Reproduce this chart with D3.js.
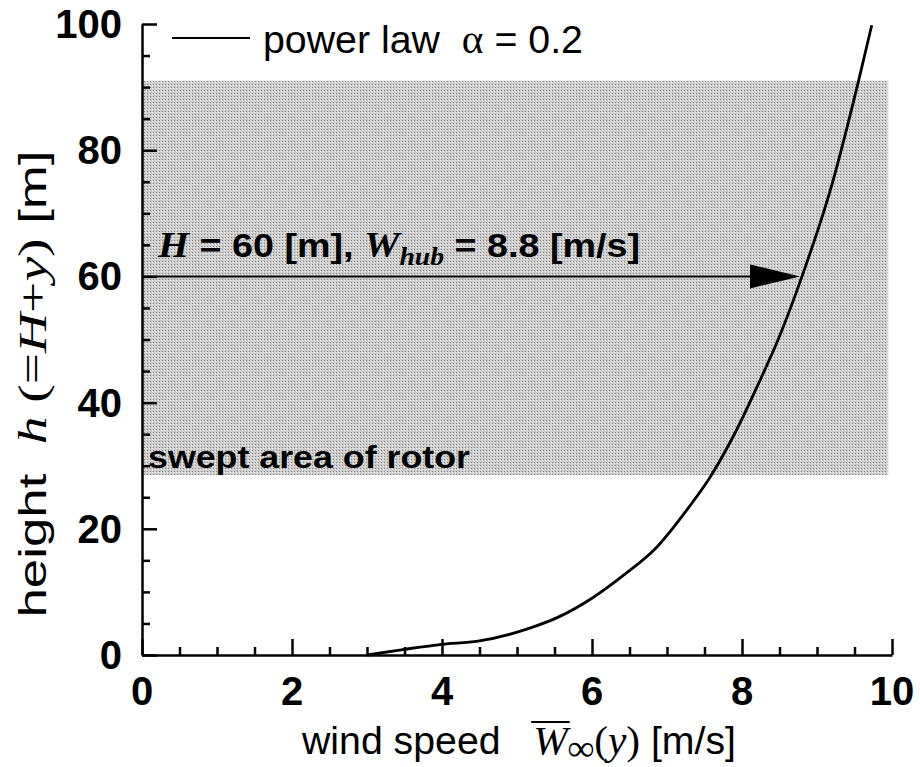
<!DOCTYPE html>
<html>
<head>
<meta charset="utf-8">
<script src="https://cdn.jsdelivr.net/npm/d3@7"></script>
<style>
  body { margin: 0; background: #fff; }
  svg text { font-family: "Liberation Sans", Arial, sans-serif; fill: #000; }
</style>
</head>
<body>
<div id="chart"></div>
<script>
const width = 920
const height = 767

// curve: wind speed [m/s], height [m]
const windSpeed = [3.0, 3.5, 4.0, 4.48, 5.13, 5.55, 6.0, 6.46, 6.84, 7.29, 7.57, 7.92, 8.22, 8.5, 8.8, 9.2, 9.55, 9.73]
const heightVals = [0, 0.9, 1.7, 2.2, 4.1, 6.0, 9.0, 13.0, 16.8, 23.4, 28.1, 35.5, 43, 50.5, 60, 74.6, 90.8, 99.8]

// rotor swept area and hub
const sweptBottom = 28.5
const sweptTop = 91
const sweptRight = 9.95
const hubHeight = 60
const hubSpeed = 8.8

const xTicks = [0, 2, 4, 6, 8, 10]
const yTicks = [0, 20, 40, 60, 80, 100]

const x = d3.scaleLinear().domain([0, 10]).range([142, 892])
const y = d3.scaleLinear().domain([0, 100]).range([655, 24])

const serif = "'Liberation Serif', 'Times New Roman', serif"
const nb = "\u00a0"

let svg = d3.select("#chart")
  .append("svg")
  .attr("width", width)
  .attr("height", height)

// textura pontilhada da zona do rotor
const pat = svg.append("defs").append("pattern")
  .attr("id", "stipple")
  .attr("width", 3).attr("height", 3)
  .attr("patternUnits", "userSpaceOnUse")
pat.append("rect").attr("width", 3).attr("height", 3).attr("fill", "#cdcdcd")
pat.append("rect").attr("x", 0).attr("y", 0).attr("width", 1).attr("height", 1).attr("fill", "#858585")
pat.append("rect").attr("x", 2).attr("y", 1).attr("width", 1).attr("height", 1).attr("fill", "#f2f2f2")

svg.append("rect")
  .attr("x", x(0))
  .attr("y", y(sweptTop))
  .attr("width", x(sweptRight) - x(0))
  .attr("height", y(sweptBottom) - y(sweptTop))
  .attr("fill", "url(#stipple)")

// eixos (ticks para dentro)
const xAxis = d3.axisBottom(x).tickValues(d3.range(0, 10.01, 0.5))
  .tickSize(0).tickFormat("")
const gx = svg.append("g").attr("transform", `translate(0,${y(0)})`).call(xAxis)
gx.select(".domain").attr("stroke", "#000").attr("stroke-width", 2.5)
gx.selectAll(".tick line")
  .attr("y2", d => (d % 2 === 0 ? -16 : -8))
  .attr("stroke", "#000").attr("stroke-width", 2.5)

const yAxis = d3.axisLeft(y).tickValues(d3.range(0, 100.1, 5))
  .tickSize(0).tickFormat("")
const gy = svg.append("g").attr("transform", `translate(${x(0)},0)`).call(yAxis)
gy.select(".domain").attr("stroke", "#000").attr("stroke-width", 2.5)
gy.selectAll(".tick line")
  .attr("x2", d => (d % 20 === 0 ? 15 : 8))
  .attr("stroke", "#000").attr("stroke-width", 2.5)

// rótulos dos ticks
svg.selectAll(".xlab")
  .data(xTicks)
  .enter()
  .append("text")
  .attr("x", d => x(d))
  .attr("y", 705)
  .attr("text-anchor", "middle")
  .style("font-size", "40px")
  .style("font-weight", "bold")
  .text(d => d)

svg.selectAll(".ylab")
  .data(yTicks)
  .enter()
  .append("text")
  .attr("x", 122)
  .attr("y", d => y(d) + 14)
  .attr("text-anchor", "end")
  .style("font-size", "40px")
  .style("font-weight", "bold")
  .text(d => d)

// curva
const line = d3.line()
  .x(d => x(d[0]))
  .y(d => y(d[1]))
  .curve(d3.curveMonotoneX)

svg.append("path")
  .datum(windSpeed.map((w, i) => [w, heightVals[i]]))
  .attr("d", line)
  .attr("fill", "none")
  .attr("stroke", "#000")
  .attr("stroke-width", 2.8)

// seta H = 60
const tipX = x(hubSpeed) - 2
svg.append("line")
  .attr("x1", x(0)).attr("x2", tipX - 40)
  .attr("y1", y(hubHeight)).attr("y2", y(hubHeight))
  .attr("stroke", "#000").attr("stroke-width", 2)

svg.append("path")
  .attr("d", `M${tipX},${y(hubHeight)} L${tipX - 50},${y(hubHeight) - 12} L${tipX - 50},${y(hubHeight) + 12} Z`)
  .attr("fill", "#000")

const hubText = svg.append("text")
  .attr("x", 158)
  .attr("y", 257)
  .attr("textLength", 482)
  .attr("lengthAdjust", "spacingAndGlyphs")
  .style("font-size", "34px")
  .style("font-weight", "bold")
hubText.append("tspan")
  .style("font-family", serif)
  .style("font-style", "italic")
  .style("font-size", "36px")
  .text("H")
hubText.append("tspan").text(" = 60 [m], ")
hubText.append("tspan")
  .style("font-family", serif)
  .style("font-style", "italic")
  .style("font-size", "36px")
  .text("W")
hubText.append("tspan")
  .attr("dy", 8)
  .style("font-family", serif)
  .style("font-style", "italic")
  .style("font-size", "25px")
  .text("hub")
hubText.append("tspan").attr("dy", -8).text(" = 8.8 [m/s]")

svg.append("text")
  .attr("x", 148)
  .attr("y", 468)
  .attr("textLength", 322)
  .attr("lengthAdjust", "spacingAndGlyphs")
  .style("font-size", "32px")
  .style("font-weight", "bold")
  .text("swept area of rotor")

// legenda
svg.append("line")
  .attr("x1", 172).attr("x2", 250)
  .attr("y1", 38).attr("y2", 38)
  .attr("stroke", "#000").attr("stroke-width", 2)

const leg = svg.append("text")
  .attr("x", 263)
  .attr("y", 53)
  .attr("textLength", 320)
  .attr("lengthAdjust", "spacingAndGlyphs")
  .style("font-size", "38px")
leg.append("tspan").text("power law" + nb + nb)
leg.append("tspan")
  .style("font-family", serif)
  .style("font-size", "40px")
  .text("α")
leg.append("tspan").text(" = 0.2")

// titulo eixo x
const xt = svg.append("text")
  .attr("x", 302)
  .attr("y", 754)
  .attr("textLength", 434)
  .attr("lengthAdjust", "spacingAndGlyphs")
  .style("font-size", "38px")
const xPre = "wind speed" + nb + nb + nb
xt.append("tspan").text(xPre)
xt.append("tspan")
  .style("font-family", serif)
  .style("font-style", "italic")
  .style("font-size", "40px")
  .text("W")
xt.append("tspan")
  .attr("dy", 6)
  .style("font-family", serif)
  .style("font-size", "36px")
  .style("font-weight", "bold")
  .text("∞")
xt.append("tspan")
  .attr("dy", -6)
  .style("font-family", serif)
  .style("font-size", "40px")
  .text("(")
xt.append("tspan")
  .style("font-family", serif)
  .style("font-style", "italic")
  .style("font-size", "40px")
  .text("y")
xt.append("tspan")
  .style("font-family", serif)
  .style("font-size", "40px")
  .text(")")
xt.append("tspan").text(" [m/s]")

// barra sobre W
const wIdx = xPre.length
const wStart = xt.node().getStartPositionOfChar(wIdx).x
const wEnd = xt.node().getEndPositionOfChar(wIdx).x
svg.append("line")
  .attr("x1", wStart - 2).attr("x2", wEnd + 2)
  .attr("y1", 722).attr("y2", 722)
  .attr("stroke", "#000").attr("stroke-width", 1.8)

// titulo eixo y
const yt = svg.append("text")
  .attr("transform", "translate(46,384) rotate(-90)")
  .attr("text-anchor", "middle")
  .attr("textLength", 467)
  .attr("lengthAdjust", "spacingAndGlyphs")
  .style("font-size", "39px")
yt.append("tspan").text("height" + nb + nb)
const serifParts = [["h", true], [nb + "(=", false], ["H", true], ["+", false], ["y", true], [")", false]]
serifParts.forEach(p => {
  yt.append("tspan")
    .style("font-family", serif)
    .style("font-style", p[1] ? "italic" : "normal")
    .style("font-size", "41px")
    .text(p[0])
})
yt.append("tspan").text(" [m]")
</script>
</body>
</html>
